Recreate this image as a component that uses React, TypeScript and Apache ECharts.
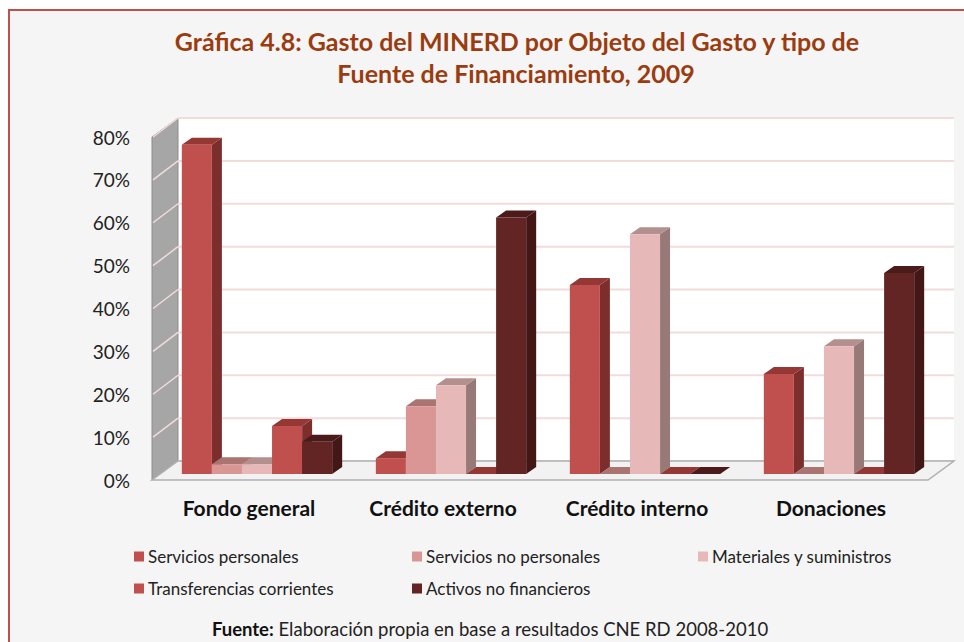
import React, { useEffect, useRef } from 'react';
import * as echarts from 'echarts';

const categories = ['Fondo general', 'Crédito externo', 'Crédito interno', 'Donaciones'];
const seriesNames = [
  'Servicios personales',
  'Servicios no personales',
  'Materiales y suministros',
  'Transferencias corrientes',
  'Activos no financieros',
];
const serviciosPersonales = [76.8, 3.7, 44.1, 23.3];
const serviciosNoPersonales = [2.3, 15.8, 0, 0];
const materialesSuministros = [2.3, 20.7, 55.9, 29.8];
const transferenciasCorrientes = [11.2, 0, 0, 0];
const activosNoFinancieros = [7.5, 59.8, 0, 46.9];
const yTicks = [0, 10, 20, 30, 40, 50, 60, 70, 80];

const titleLines = [
  'Gráfica 4.8: Gasto del MINERD por Objeto del Gasto y tipo de',
  'Fuente de Financiamiento, 2009',
];
const footerText = '{b|Fuente:} Elaboración propia en base a resultados CNE RD 2008-2010';

const seriesValues = [
  serviciosPersonales,
  serviciosNoPersonales,
  materialesSuministros,
  transferenciasCorrientes,
  activosNoFinancieros,
];

// face colours: front, top, side
const palette = [
  { front: '#c0504d', top: '#953735', side: '#7b2e2c' },
  { front: '#d99694', top: '#a97472', side: '#a06e6c' },
  { front: '#e6b9b8', top: '#b38f8e', side: '#977978' },
  { front: '#c0504d', top: '#953735', side: '#7b2e2c' },
  { front: '#632523', top: '#4a1b1a', side: '#421716' },
];

const FONT = 'Lato, "Noto Sans", sans-serif';
const DX = 26; // depth of the floor
const DY = 19;
const BAR_OFF_X = 8; // bar front position inside depth
const BAR_OFF_Y = 6;
const BAR_DX = 10; // bar depth
const BAR_DY = 7;

function wallsRender(params: any, api: any) {
  const cs = params.coordSys;
  const left = cs.x;
  const right = cs.x + cs.width;
  const bottom = api.coord([0, yTicks[0]])[1];
  const top = api.coord([0, yTicks[yTicks.length - 1]])[1];
  const children: any[] = [];
  children.push({
    type: 'rect',
    shape: { x: left + DX, y: top - DY, width: right - left, height: bottom - top },
    style: { fill: '#ffffff' },
  });
  children.push({
    type: 'polygon',
    shape: {
      points: [
        [left, bottom],
        [left, top],
        [left + DX, top - DY],
        [left + DX, bottom - DY],
      ],
    },
    style: { fill: '#a6a6a6', stroke: '#8c8c8c', lineWidth: 1 },
  });
  yTicks.forEach((v) => {
    const y = api.coord([0, v])[1];
    children.push({
      type: 'line',
      shape: { x1: left + DX, y1: y - DY, x2: right + DX, y2: y - DY },
      style: { stroke: '#f2dcdb', lineWidth: 2 },
    });
    if (v > 0) {
      children.push({
        type: 'line',
        shape: { x1: left + 1, y1: y, x2: left + DX, y2: y - DY },
        style: { stroke: '#f2dcdb', lineWidth: 1.5 },
      });
    }
  });
  children.push({
    type: 'polygon',
    shape: {
      points: [
        [left, bottom],
        [right, bottom],
        [right + DX, bottom - DY],
        [left + DX, bottom - DY],
      ],
    },
    style: { fill: '#f2f2f2', stroke: '#b0b0b0', lineWidth: 1.5 },
  });
  return { type: 'group', children };
}

function makeBarRender(si: number) {
  const c = palette[si];
  return (params: any, api: any) => {
    const cat = api.value(0);
    const val = api.value(1);
    const base = api.coord([cat, 0]);
    const topPt = api.coord([cat, val]);
    const band = api.size([1, 0])[0];
    const w = band * 0.155;
    const x0 = base[0] - 2.5 * w + si * w + BAR_OFF_X;
    const x1 = x0 + w;
    const yb = base[1] - BAR_OFF_Y;
    const yt = topPt[1] - BAR_OFF_Y;
    return {
      type: 'group',
      children: [
        {
          type: 'polygon',
          shape: {
            points: [
              [x1, yb],
              [x1 + BAR_DX, yb - BAR_DY],
              [x1 + BAR_DX, yt - BAR_DY],
              [x1, yt],
            ],
          },
          style: { fill: c.side },
        },
        {
          type: 'polygon',
          shape: {
            points: [
              [x0, yt],
              [x1, yt],
              [x1 + BAR_DX, yt - BAR_DY],
              [x0 + BAR_DX, yt - BAR_DY],
            ],
          },
          style: { fill: c.top },
        },
        {
          type: 'rect',
          shape: { x: x0, y: yt, width: w, height: Math.max(0, yb - yt) },
          style: { fill: c.front },
        },
      ],
    };
  };
}

const legendPos = [
  { left: 134, top: 548 },
  { left: 412, top: 548 },
  { left: 698, top: 548 },
  { left: 134, top: 580 },
  { left: 412, top: 580 },
];

export default function App() {
  const ref = useRef<HTMLDivElement>(null);
  useEffect(() => {
    document.body.style.margin = '0';
    const chart = echarts.init(ref.current!, null, { renderer: 'svg' });
    const option: any = {
      animation: false,
      backgroundColor: '#ffffff',
      grid: { left: 152, right: 36, top: 137, bottom: 162, containLabel: false },
      xAxis: {
        type: 'category',
        data: categories,
        axisLine: { show: false },
        axisTick: { show: false },
        axisLabel: {
          margin: 17,
          fontFamily: FONT,
          fontWeight: 'bold',
          fontSize: 21,
          color: '#111111',
        },
      },
      yAxis: {
        type: 'value',
        min: 0,
        max: 80,
        interval: 10,
        axisLine: { show: false },
        axisTick: { show: false },
        splitLine: { show: false },
        axisLabel: {
          margin: 22,
          formatter: '{value}%',
          fontFamily: FONT,
          fontSize: 19,
          color: '#222222',
        },
      },
      legend: seriesNames.map((n, i) => ({
        data: [n],
        left: legendPos[i].left,
        top: legendPos[i].top,
        padding: 0,
        itemWidth: 10,
        itemHeight: 10,
        itemGap: 0,
        icon: 'rect',
        selectedMode: false,
        textStyle: { fontFamily: FONT, fontSize: 17, color: '#222222', padding: [0, 0, 0, -1] },
      })),
      graphic: [
        {
          type: 'rect',
          z: -10,
          silent: true,
          shape: { x: 9, y: 10, width: 1000, height: 700 },
          style: { fill: '#f5f5f5', stroke: '#c0504d', lineWidth: 2 },
        },
        {
          type: 'text',
          x: 517,
          y: 41,
          style: {
            text: titleLines[0],
            fill: '#9a3c10',
            font: `bold 25px ${FONT}`,
            textAlign: 'center',
            textVerticalAlign: 'middle',
          },
        },
        {
          type: 'text',
          x: 516,
          y: 73,
          style: {
            text: titleLines[1],
            fill: '#9a3c10',
            font: `bold 25px ${FONT}`,
            textAlign: 'center',
            textVerticalAlign: 'middle',
          },
        },
        {
          type: 'text',
          x: 490,
          y: 629,
          style: {
            text: footerText,
            fill: '#222222',
            font: `18.5px ${FONT}`,
            textAlign: 'center',
            textVerticalAlign: 'middle',
            rich: {
              b: { fontWeight: 'bold', fontSize: 18.5, fontFamily: FONT, fill: '#111111' },
            },
          },
        },
      ],
      series: [
        {
          type: 'custom',
          name: 'walls',
          renderItem: wallsRender,
          data: [[0, 0]],
          z: 1,
          silent: true,
        },
        ...seriesNames.map((n, i) => ({
          type: 'custom',
          name: n,
          renderItem: makeBarRender(i),
          itemStyle: { color: palette[i].front },
          encode: { x: 0, y: 1 },
          data: seriesValues[i].map((v, ci) => [ci, v]),
          z: 2,
        })),
      ],
    };
    chart.setOption(option);
    return () => chart.dispose();
  }, []);
  return (
    <div
      ref={ref}
      style={{ position: 'fixed', left: 0, top: 0, width: 964, height: 642 }}
    />
  );
}
